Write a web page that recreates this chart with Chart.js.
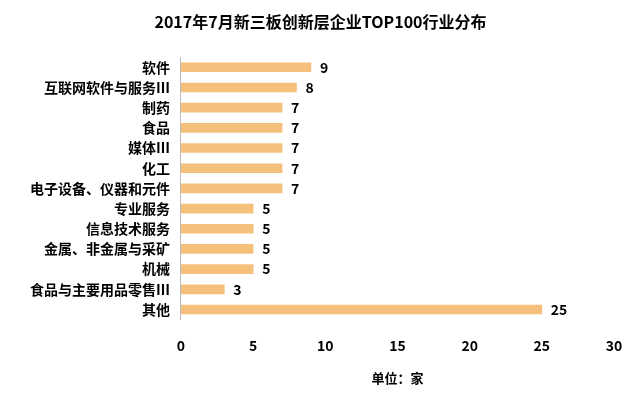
<!DOCTYPE html>
<html>
<head>
<meta charset="utf-8">
<script src="https://cdn.jsdelivr.net/npm/chart.js@4"></script>
<style>
  body { margin: 0; background: #fff; }
  #wrap { width: 640px; height: 400px; }
</style>
</head>
<body>
<div id="wrap"><canvas id="grafico"></canvas></div>
<script>
// dados
const categorias = ["软件", "互联网软件与服务Ⅲ", "制药", "食品", "媒体Ⅲ", "化工", "电子设备、仪器和元件",
  "专业服务", "信息技术服务", "金属、非金属与采矿", "机械", "食品与主要用品零售Ⅲ", "其他"];
const valores = [9, 8, 7, 7, 7, 7, 7, 5, 5, 5, 5, 3, 25];
const ticksX = [0, 5, 10, 15, 20, 25, 30];

const fonte = "'Noto Sans CJK SC', 'Microsoft YaHei', sans-serif";

// plugin simples pra escrever os valores no fim das barras
const rotulos = {
  id: "rotulos",
  afterDatasetsDraw(chart) {
    const c = chart.ctx;
    c.save();
    c.font = "bold 14px " + fonte;
    c.fillStyle = "#000";
    c.textBaseline = "middle";
    chart.getDatasetMeta(0).data.forEach((bar, i) => {
      c.fillText(valores[i], bar.x + 9, bar.y);
    });
    c.restore();
  }
};

new Chart(document.getElementById("grafico"), {
  type: "bar",
  data: {
    labels: categorias,
    datasets: [{
      data: valores,
      backgroundColor: "#F5C07C",
      barThickness: 9
    }]
  },
  plugins: [rotulos],
  options: {
    indexAxis: "y",
    responsive: true,
    maintainAspectRatio: false,
    animation: false,
    layout: { padding: { left: 27, right: 26, top: 2, bottom: 10 } },
    scales: {
      x: {
        min: 0, max: 30,
        afterBuildTicks: ax => { ax.ticks = ticksX.map(v => ({ value: v })); },
        grid: { display: false },
        border: { display: false },
        ticks: { font: { family: fonte, size: 14, weight: "bold" }, color: "#000", padding: 10 },
        title: { display: true, text: "单位：家", font: { family: fonte, size: 13, weight: "bold" }, color: "#000", padding: { top: 6 } }
      },
      y: {
        grid: { display: false },
        border: { display: true, color: "#bbb" },
        ticks: { font: { family: fonte, size: 14, weight: "bold" }, color: "#000", autoSkip: false }
      }
    },
    plugins: {
      legend: { display: false },
      tooltip: { enabled: false },
      title: {
        display: true,
        text: "2017年7月新三板创新层企业TOP100行业分布",
        font: { family: fonte, size: 16, weight: "bold" },
        color: "#000",
        padding: { top: 10, bottom: 26 }
      }
    }
  }
});
</script>
</body>
</html>
